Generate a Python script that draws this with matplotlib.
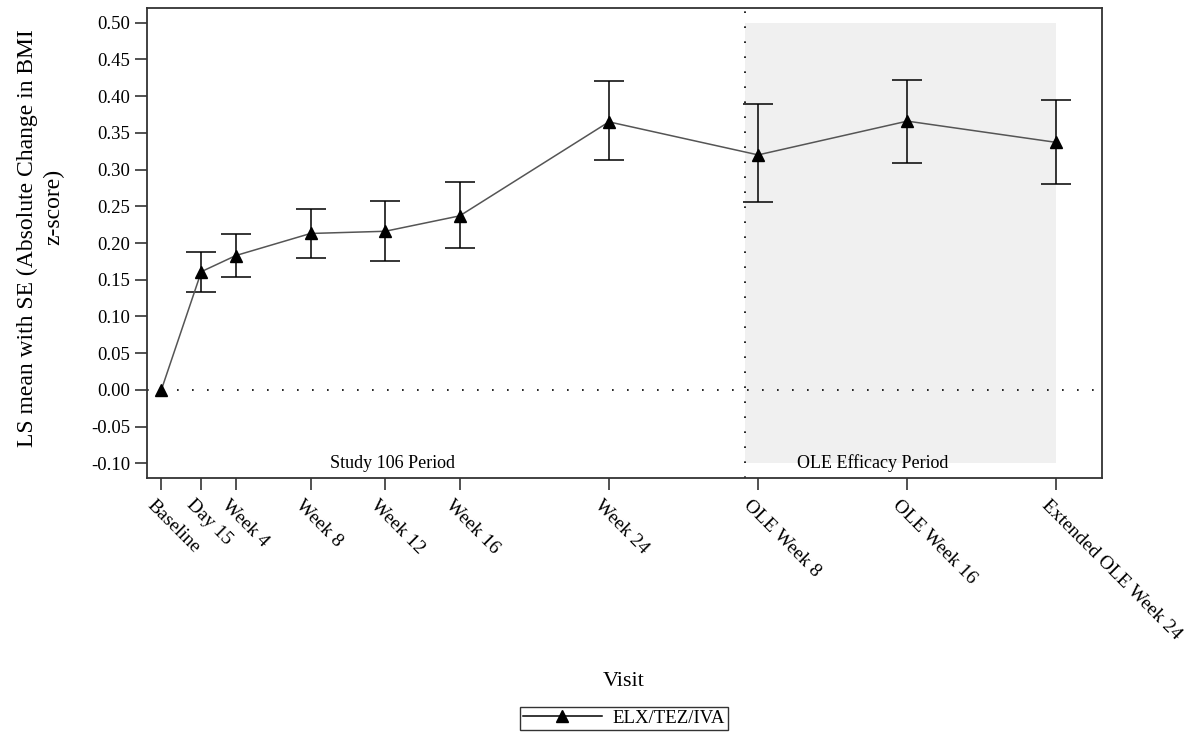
import matplotlib
matplotlib.use('Agg')
import matplotlib.pyplot as plt
import matplotlib.transforms as mtransforms

plt.rcParams['font.family'] = ['Liberation Serif', 'DejaVu Serif']

# Данные
visits = ['Baseline', 'Day 15', 'Week 4', 'Week 8', 'Week 12', 'Week 16',
          'Week 24', 'OLE Week 8', 'OLE Week 16', 'Extended OLE Week 24']
weeks = [0, 15 / 7, 4, 8, 12, 16, 24, 32, 40, 48]
ls_mean = [0.0, 0.161, 0.183, 0.213, 0.216, 0.237, 0.365, 0.320, 0.366, 0.337]
se_low = [0.0, 0.133, 0.154, 0.180, 0.175, 0.193, 0.313, 0.256, 0.309, 0.280]
se_high = [0.0, 0.188, 0.212, 0.246, 0.257, 0.283, 0.421, 0.389, 0.422, 0.395]
ole_start = 31.27
ole_end = 48
yticks = [-0.10, -0.05, 0.00, 0.05, 0.10, 0.15, 0.20, 0.25, 0.30, 0.35, 0.40, 0.45, 0.50]

fig = plt.figure(figsize=(11.99, 7.37), dpi=100)
ax = fig.add_axes([0.1226, 0.3514, 0.7965, 0.6377])

# Сірий фон періоду OLE
ax.fill_between([ole_start, ole_end], -0.10, 0.50, color='#f0f0f0', zorder=0, linewidth=0)
ax.axvline(ole_start, color='black', linestyle=(0, (1, 8)), linewidth=1.2, zorder=1)
ax.axhline(0, color='black', linestyle=(0, (1, 8)), linewidth=1.2, zorder=1)

# Лінія та похибки
ax.plot(weeks, ls_mean, color='#555555', linewidth=1.1, marker='^', markersize=9,
        markerfacecolor='black', markeredgecolor='black', zorder=3, label='ELX/TEZ/IVA')
err_lo = [m - l for m, l in zip(ls_mean, se_low)]
err_hi = [h - m for m, h in zip(ls_mean, se_high)]
ax.errorbar(weeks[1:], ls_mean[1:], yerr=[err_lo[1:], err_hi[1:]], fmt='none',
            ecolor='black', elinewidth=1.1, capsize=11, capthick=1.1, zorder=2)

ax.text(12.37, -0.10, 'Study 106 Period', ha='center', va='center', fontsize=13)
ax.text(38.15, -0.10, 'OLE Efficacy Period', ha='center', va='center', fontsize=13)

ax.set_xlim(-0.77, 50.44)
ax.set_ylim(-0.12, 0.52)
ax.set_yticks(yticks)
ax.set_yticklabels([f'{v:.2f}' for v in yticks], fontsize=13.5)
ax.set_xticks(weeks)
ax.set_xticklabels(visits, fontsize=14)
ax.tick_params(axis='both', direction='out', length=8.6, width=1.1, color='#222222')
ax.tick_params(axis='y', pad=3.6)
ax.tick_params(axis='x', pad=9)

offset = mtransforms.ScaledTranslation(-12 / 100, 0, fig.dpi_scale_trans)
for lab in ax.get_xticklabels():
    lab.set_rotation(-45)
    lab.set_rotation_mode('anchor')
    lab.set_ha('left')
    lab.set_va('center')
    lab.set_transform(lab.get_transform() + offset)

for s in ax.spines.values():
    s.set_color('#333333')
    s.set_linewidth(1.3)

# Підписи осей
fig.text(27 / 1199, 1 - 238 / 737, 'LS mean with SE (Absolute Change in BMI',
         rotation=90, ha='center', va='center', fontsize=17)
fig.text(54 / 1199, 1 - 207 / 737, 'z-score)', rotation=90, ha='center', va='center', fontsize=17)
fig.text(624 / 1199, 1 - 681 / 737, 'Visit', ha='center', va='center', fontsize=16)

leg = fig.legend(loc='upper center', bbox_to_anchor=(624 / 1199, 1 - 707 / 737),
                 fontsize=13.5, handlelength=4.2, handletextpad=0.6, borderpad=0.15,
                 borderaxespad=0, frameon=True, fancybox=False, edgecolor='black')
leg.get_frame().set_linewidth(1.0)
leg.get_lines()[0].set_color('black')

fig.savefig('out.png', dpi=100)
